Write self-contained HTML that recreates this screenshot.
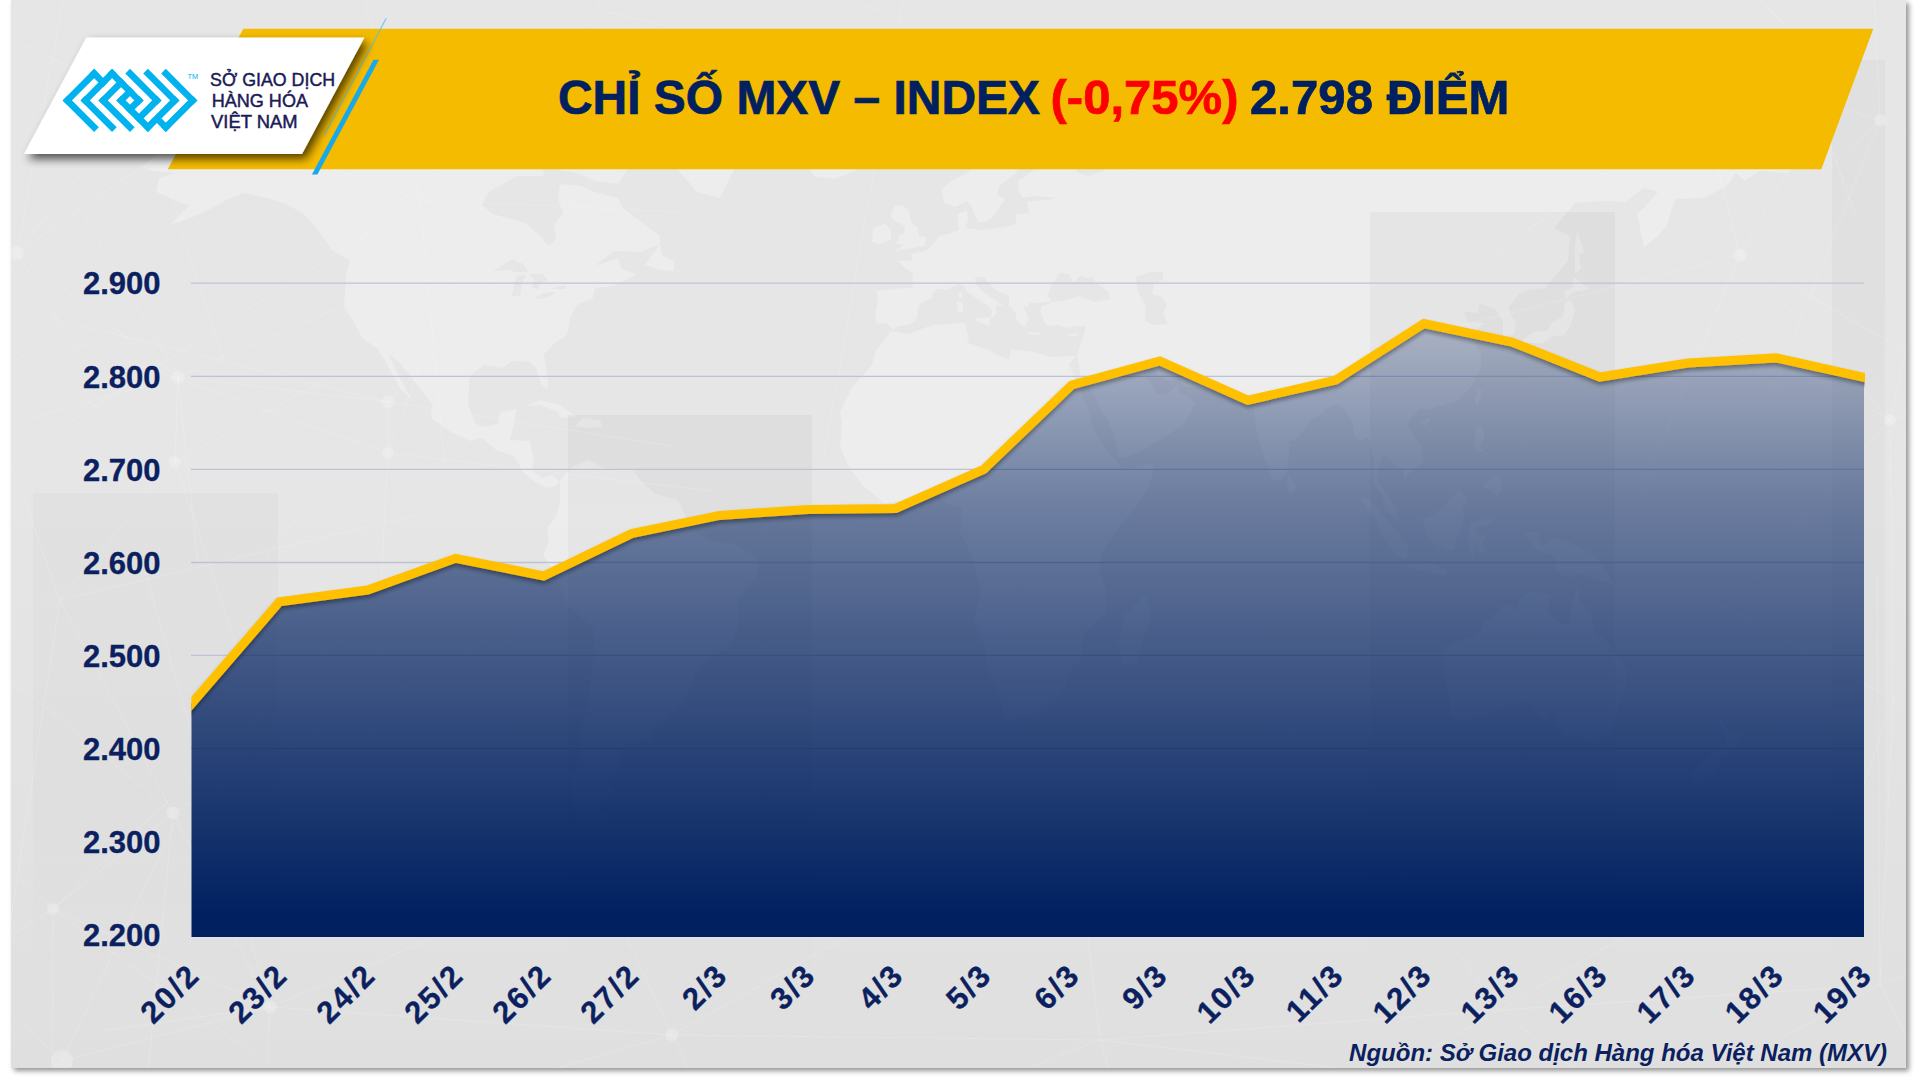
<!DOCTYPE html>
<html lang="vi"><head><meta charset="utf-8"><title>Chỉ số MXV-Index</title>
<style>
html,body{margin:0;padding:0;background:#fff;}
body{width:1920px;height:1080px;overflow:hidden;position:relative;font-family:"Liberation Sans",sans-serif;}
#panel{position:absolute;left:11.3px;top:0;width:1894.7px;height:1068px;background:#e6e6e6;box-shadow:3px 3px 5px rgba(0,0,0,.42);}
svg{position:absolute;left:0;top:0;}
text{font-family:"Liberation Sans",sans-serif;}
</style></head><body>
<div id="panel"></div>
<svg width="1920" height="1080" viewBox="0 0 1920 1080">
<defs>
<linearGradient id="ga" gradientUnits="userSpaceOnUse" x1="0" y1="320" x2="0" y2="915">
<stop offset="0" stop-color="#002060" stop-opacity=".25"/>
<stop offset=".3025" stop-color="#002060" stop-opacity=".53"/>
<stop offset="1" stop-color="#002060" stop-opacity="1"/>
</linearGradient>
<linearGradient id="gb" x1="0" y1="0" x2="0" y2="1"><stop offset="0" stop-color="#000" stop-opacity=".04"/><stop offset=".6" stop-color="#000" stop-opacity=".03"/><stop offset="1" stop-color="#000" stop-opacity="0"/></linearGradient>
<linearGradient id="bgl" x1="0" y1="0" x2="0" y2="1"><stop offset="0" stop-color="#000" stop-opacity="0"/><stop offset=".45" stop-color="#000" stop-opacity="0"/><stop offset="1" stop-color="#000" stop-opacity=".03"/></linearGradient>
<filter id="sh" x="-5%" y="-20%" width="110%" height="150%"><feGaussianBlur in="SourceAlpha" stdDeviation="2"/><feOffset dx="0" dy="3"/><feComponentTransfer><feFuncA type="linear" slope=".38"/></feComponentTransfer><feMerge><feMergeNode/><feMergeNode in="SourceGraphic"/></feMerge></filter>
<filter id="sh2" x="-10%" y="-20%" width="125%" height="150%"><feGaussianBlur in="SourceAlpha" stdDeviation="4.6"/><feOffset dx="4" dy="4.5"/><feComponentTransfer><feFuncA type="linear" slope=".66"/></feComponentTransfer><feMerge><feMergeNode/><feMergeNode in="SourceGraphic"/></feMerge></filter>
<clipPath id="cl"><rect x="191.3" y="200" width="1673.7" height="760"/></clipPath>
<clipPath id="cp"><rect x="11" y="0" width="1895" height="1068"/></clipPath>
</defs>
<g clip-path="url(#cp)">
<rect x="11" y="0" width="1895" height="1068" fill="url(#bgl)"/>
<path d="M142,167 170,142 198,136 267,144 341,142 410,154 480,154 503,148 540,145 544,176 517,176 489,192 482,205 493,214 526,223 540,236 549,246 556,239 554,225 563,214 558,198 560,184 581,186 595,192 618,198 623,208 641,222 660,236 660,244 641,252 614,251 595,266 618,258 621,269 637,274 614,286 595,288 593,298 577,305 570,318 567,335 556,342 544,354 548,379 547,389 541,384 536,368 530,362 512,361 503,368 484,365 470,376 468,404 475,423 482,427 498,424 500,412 517,409 513,428 510,440 530,441 534,462 532,470 542,478 551,475 560,481 556,486 547,488 535,482 523,472 514,456 496,450 482,438 470,441 452,433 431,418 432,404 415,382 399,362 389,354 396,371 410,396 413,401 401,390 387,365 378,349 362,338 353,321 344,306 346,274 350,261 332,250 318,230 304,214 286,204 267,198 244,193 226,200 212,208 193,217 170,225 189,206 170,198 156,192 159,178 175,173 152,171ZM549,123 586,134 609,148 632,162 618,184 595,181 577,173 558,170 581,156 558,142 526,142 507,132ZM373,126 433,126 447,145 401,149 373,137ZM341,119 383,120 383,132 350,134 339,129ZM480,118 549,116 549,108 572,104 632,76 572,71 503,82 480,98ZM581,98 641,76 757,68 826,82 826,115 817,142 780,154 734,170 720,198 697,192 678,170 669,148 651,115 604,110ZM560,481 572,467 588,460 604,468 632,469 641,481 655,494 678,500 688,522 697,533 715,541 734,544 757,558 757,577 738,599 738,626 729,648 711,658 694,670 692,687 678,709 664,720 653,728 653,739 632,742 618,753 623,764 607,780 614,792 600,808 602,819 590,824 574,814 570,786 579,758 581,731 588,704 593,665 594,629 567,604 554,572 543,555 549,541 547,528 556,516 560,503ZM840,447 842,423 840,412 852,387 872,365 875,352 891,331 909,334 932,325 965,323 969,340 966,342 988,350 1009,360 1011,349 1034,352 1052,357 1066,356 1077,356 1069,364 1080,390 1089,412 1092,426 1101,442 1117,462 1122,470 1154,463 1150,484 1136,506 1113,536 1101,555 1099,572 1106,588 1106,613 1085,632 1080,660 1070,670 1066,687 1048,709 1036,714 1011,719 1003,714 999,692 988,670 985,648 974,621 981,594 974,560 960,533 962,508 946,504 937,493 909,500 884,503 863,486 849,467ZM1146,594 1151,616 1136,665 1122,665 1119,643 1124,616ZM877,324 875,315 878,299 876,291 905,288 912,288 913,274 897,261 912,260 911,254 925,251 932,245 939,236 951,233 959,230 957,214 967,210 968,220 965,228 974,229 983,230 1004,227 1016,224 1016,214 1029,213 1027,201 1048,200 1057,198 1034,196 1022,198 1018,189 1018,181 1034,170 1029,166 1020,167 1016,173 999,186 997,195 1005,199 995,214 992,218 985,222 978,222 971,206 967,201 955,207 944,203 942,189 951,181 967,173 983,156 992,148 1011,142 1036,137 1050,138 1062,142 1071,145 1108,155 1106,163 1080,162 1071,162 1078,173 1089,176 1103,171 1106,164 1122,163 1122,154 1131,154 1168,151 1196,148 1233,151 1228,137 1237,126 1256,129 1258,151 1260,132 1288,129 1290,123 1320,115 1371,110 1399,100 1441,112 1441,122 1491,123 1514,137 1533,134 1565,129 1612,134 1658,144 1704,145 1732,144 1750,149 1773,159 1796,166 1787,173 1759,171 1745,181 1736,173 1727,186 1704,198 1676,199 1672,208 1667,225 1658,236 1644,247 1637,214 1644,208 1658,192 1644,188 1625,202 1605,201 1575,203 1554,228 1570,236 1568,261 1545,288 1528,290 1519,294 1508,308 1516,324 1514,334 1503,338 1503,321 1495,309 1480,303 1478,313 1464,312 1468,322 1484,323 1470,335 1481,354 1481,368 1471,387 1457,401 1443,405 1428,410 1420,408 1411,419 1407,426 1421,445 1423,462 1413,470 1404,480 1403,471 1392,462 1384,454 1380,464 1377,477 1383,489 1396,506 1399,519 1396,520 1385,511 1382,494 1373,484 1374,462 1369,437 1360,441 1354,437 1353,423 1344,409 1339,404 1327,408 1320,415 1311,420 1299,437 1289,442 1289,456 1287,471 1279,482 1272,478 1264,457 1257,434 1255,418 1254,409 1244,413 1237,405 1229,393 1216,388 1203,389 1183,386 1180,379 1168,381 1156,374 1150,361 1140,362 1144,374 1150,382 1157,394 1168,394 1178,383 1180,393 1190,398 1195,404 1189,415 1185,423 1174,431 1160,440 1143,450 1126,457 1119,458 1116,446 1115,437 1107,419 1100,409 1096,397 1089,387 1080,374 1079,365 1077,356 1080,346 1084,334 1086,326 1078,326 1067,328 1059,325 1048,326 1044,321 1040,311 1042,306 1052,302 1063,301 1080,296 1094,302 1110,299 1108,291 1096,283 1092,277 1087,278 1080,276 1073,283 1069,274 1059,273 1056,279 1050,288 1048,296 1052,301 1040,303 1029,303 1027,308 1024,305 1025,311 1029,318 1025,327 1021,325 1016,320 1016,313 1009,306 1009,296 997,291 989,284 985,278 982,277 975,278 976,284 982,291 992,298 1004,306 997,305 995,310 997,313 992,318 991,318 992,310 988,306 979,300 967,292 965,286 958,284 953,287 946,290 937,289 932,294 933,298 922,302 917,310 918,315 915,321 908,325 898,326 893,330 889,325 884,323ZM1136,277 1150,272 1163,272 1163,280 1154,283 1152,294 1161,296 1167,305 1163,313 1168,324 1154,325 1145,321 1146,306 1138,292ZM893,252 905,249 925,246 926,237 919,236 918,228 911,222 909,211 903,205 895,206 890,216 896,222 905,226 904,234 898,235 899,240 894,243 904,245ZM891,240 891,230 885,223 873,229 872,242 879,244ZM808,167 817,162 845,162 856,170 835,179 815,177ZM1520,356 1527,354 1528,343 1543,343 1551,337 1564,335 1570,327 1575,310 1571,300 1565,303 1563,316 1551,324 1547,331 1533,332 1524,339 1518,346ZM1565,299 1574,292 1591,289 1585,286 1574,277 1572,288 1565,291ZM1575,274 1581,269 1579,255 1584,252 1579,236 1577,230 1575,247ZM1474,401 1478,389 1482,390 1478,406ZM1474,440 1477,426 1483,427 1484,437 1480,448 1491,457 1484,453 1477,450ZM1482,488 1489,480 1498,474 1503,484 1501,492 1497,496 1491,489ZM1288,474 1296,486 1293,494 1288,493 1287,484ZM1359,497 1369,499 1382,514 1398,533 1408,546 1407,559 1399,558 1385,541 1375,519ZM1422,519 1431,516 1441,509 1452,497 1459,489 1468,499 1463,508 1464,522 1457,536 1454,550 1447,550 1434,545 1427,536ZM1405,565 1420,564 1431,563 1447,570 1447,575 1427,573 1411,568ZM1471,523 1478,520 1495,519 1487,526 1475,528 1480,537 1488,533 1482,545 1486,555 1480,552 1475,543 1474,558 1471,555 1468,541ZM1524,532 1538,532 1542,546 1556,537 1570,542 1588,552 1600,560 1614,584 1598,580 1581,574 1570,577 1556,572 1556,558 1538,550 1532,544ZM1445,648 1443,670 1450,698 1450,716 1464,720 1489,714 1514,702 1526,701 1542,719 1554,709 1556,723 1565,736 1584,739 1595,742 1612,734 1616,714 1625,692 1627,668 1616,657 1607,640 1594,632 1591,610 1581,604 1577,587 1572,599 1570,624 1563,624 1547,613 1551,595 1531,591 1519,599 1517,610 1505,604 1496,613 1483,624 1478,635 1457,642ZM1718,717 1729,731 1743,735 1736,745 1727,756 1722,756 1718,767 1709,780 1695,783 1690,775 1709,758 1716,750 1726,745 1725,734ZM1159,137 1177,123 1196,110 1233,104 1205,118 1177,137ZM969,93 992,88 1029,88 1020,98 992,104ZM526,406 540,400 558,404 576,416 560,418 558,412 540,405ZM574,426 584,418 600,420 602,427 588,428ZM645,265 660,244 662,255 674,261 674,271 660,270ZM976,318 990,317 989,326 976,321ZM956,302 963,302 963,312 958,313ZM959,293 962,292 962,299 959,298ZM1027,332 1040,333 1039,335 1028,334ZM1068,335 1078,332 1076,336 1070,337ZM1421,422 1429,418 1431,420 1424,427ZM493,271 505,264 512,259 523,264 528,272 517,272 507,270ZM512,296 514,286 517,276 526,275 522,284 520,296ZM529,274 542,274 549,281 541,282 538,290 532,287 534,280ZM534,298 544,293 554,292 554,294 542,299ZM550,289 560,286 566,286 565,289 556,289Z" fill="#fff" fill-opacity=".28" fill-rule="evenodd"/>
<rect x="33" y="493" width="245" height="497" fill="url(#gb)" opacity="0.55"/><rect x="568" y="415" width="244" height="575" fill="url(#gb)" opacity="0.85"/><rect x="1370" y="212" width="245" height="778" fill="url(#gb)" opacity="0.85"/><rect x="1832" y="60" width="53" height="930" fill="url(#gb)" opacity="0.7"/>
<path d="M178,377L338,308M178,377L198,564M178,377L-239,494M178,377L84,217M388,402L672,446M388,402L266,557M388,402L50,318M388,402L615,158M388,453L713,491M388,453L373,738M388,453L76,343M388,453L513,111M175,462L-48,307M175,462L332,376M175,462L245,672M17,253L-260,139M17,253L65,-11M17,253L193,131M17,253L114,410M17,253L-94,541M270,1007L145,571M270,1007L533,896M270,1007L260,1212M270,1007L100,1031M1740,255L2083,455M1740,255L1639,497M1740,255L1440,331M1740,255L1695,80M1740,255L1859,45M53,909L-225,664M53,909L387,596M53,909L252,1053M53,909L51,1270M53,909L-199,1069M173,813L-1,669M173,813L507,629M173,813L131,1246M62,1061L352,1208M62,1061L-222,1351M62,1061L-115,893M62,1061L177,819M672,1035L857,931M672,1035L774,1241M672,1035L348,1128M672,1035L604,889M1880,120L1635,46M1880,120L1860,-297M1880,120L2188,300M1880,120L1770,396M1890,420L1952,147M1890,420L2225,318M1890,420L1997,565M1890,420L1752,577M1890,420L1736,336M140,100L-262,-91M140,100L294,5M140,100L224,360M420,200L445,468M420,200L70,422M420,200L340,-89M420,200L529,50M420,200L683,212M60,600L-255,600M60,600L-90,180M60,600L417,515M60,600L1,983M1100,1040L1466,1083M1100,1040L1181,1297M1100,1040L735,1183M1100,1040L1054,649M1500,1010L1264,691M1500,1010L1688,898M1500,1010L1719,1184M1500,1010L1308,1117M1893,700L1838,859M1893,700L1685,585M1893,700L2212,387M1893,700L2251,957M1880,985L2090,901M1880,985L1981,1179M1880,985L1574,1150M1880,985L1877,573M1790,30L2064,-193M1790,30L1855,215M1790,30L1493,257M1790,30L1488,-271M900,20L950,-377M900,20L1134,171M900,20L824,457M900,20L706,-62M600,10L891,80M600,10L352,248M600,10L515,-280M178,377L388,402M178,377L175,462M388,402L388,453M178,377L17,253M270,1007L53,909M270,1007L173,813M270,1007L62,1061M270,1007L672,1035M53,909L173,813M1740,255L1880,120M1740,255L1890,420M672,1035L1100,1040M1100,1040L1500,1010M1500,1010L1880,985M1890,420L1893,700M1893,700L1880,985M140,100L420,200M17,253L140,100M175,462L60,600M60,600L173,813" stroke="#fff" stroke-opacity=".17" stroke-width="1" fill="none"/>
<g fill="#fff" fill-opacity=".22"><circle cx="178" cy="377" r="6.5"/><circle cx="388" cy="402" r="6.5"/><circle cx="388" cy="453" r="6"/><circle cx="175" cy="462" r="6"/><circle cx="17" cy="253" r="7"/><circle cx="270" cy="1007" r="6.5"/><circle cx="1740" cy="255" r="6.5"/><circle cx="53" cy="909" r="6"/><circle cx="173" cy="813" r="6.5"/><circle cx="62" cy="1061" r="11"/><circle cx="672" cy="1035" r="6.5"/><circle cx="1880" cy="120" r="6"/><circle cx="1890" cy="420" r="6"/></g>

</g>
<polygon points="243.3,28.8 1873.3,28.8 1821.3,169.2 167.8,169.2" fill="#f4bb00"/>
<line x1="386.2" y1="18.3" x2="324.2" y2="135.2" stroke="#55bdf0" stroke-opacity=".72" stroke-width="1.3"/>
<polygon points="373.5,59.7 379,59.7 317.4,174.5 311.9,174.5" fill="#17a9ea"/>
<polygon points="86.3,37.4 364.4,37.4 302,154 24,154" fill="#fff" filter="url(#sh2)"/>
<g fill="#00b2ee" transform="matrix(4.4790,4.4790,4.4790,-4.4790,62.8,100.4)"><rect x="-0.02" y="-0.02" width="1.04" height="7.04"/><rect x="-0.02" y="-0.02" width="7.04" height="1.04"/><rect x="-0.02" y="5.98" width="3.04" height="1.04"/><rect x="1.98" y="1.98" width="1.04" height="7.04"/><rect x="1.98" y="1.98" width="7.04" height="1.04"/><rect x="1.98" y="7.98" width="7.04" height="1.04"/><rect x="3.98" y="3.98" width="1.04" height="5.04"/><rect x="3.98" y="3.98" width="7.04" height="1.04"/><rect x="5.98" y="5.98" width="1.04" height="3.04"/><rect x="5.98" y="5.98" width="7.04" height="1.04"/><rect x="7.98" y="5.98" width="1.04" height="3.04"/><rect x="3.98" y="9.98" width="7.04" height="1.04"/><rect x="9.98" y="5.98" width="1.04" height="5.04"/><rect x="5.98" y="11.98" width="7.04" height="1.04"/><rect x="11.98" y="5.98" width="1.04" height="7.04"/><rect x="7.98" y="13.98" width="7.04" height="1.04"/><rect x="13.98" y="7.98" width="1.04" height="7.04"/><rect x="12.98" y="7.98" width="2.04" height="1.04"/></g>
<text x="187.6" y="78.6" font-size="6.6" fill="#00b2ee" textLength="10.6" lengthAdjust="spacingAndGlyphs">TM</text>
<text x="210.1" y="86.0" font-size="17.9" fill="#1a1a56" stroke="#1a1a56" stroke-width=".45" textLength="125.0" lengthAdjust="spacingAndGlyphs">SỞ GIAO DỊCH</text>
<text x="211.7" y="107.1" font-size="17.9" fill="#1a1a56" stroke="#1a1a56" stroke-width=".45" textLength="96.3" lengthAdjust="spacingAndGlyphs">HÀNG HÓA</text>
<text x="211.1" y="128.4" font-size="17.9" fill="#1a1a56" stroke="#1a1a56" stroke-width=".45" textLength="86.5" lengthAdjust="spacingAndGlyphs">VIỆT NAM</text>
<g font-size="47.5" font-weight="bold" fill="#002060" stroke="#002060" stroke-width=".7"><text x="558" y="114.2" textLength="482" lengthAdjust="spacingAndGlyphs">CHỈ SỐ MXV – INDEX</text><text x="1050.5" y="114.2" fill="#ff0000" stroke="#ff0000" textLength="188" lengthAdjust="spacingAndGlyphs">(-0,75%)</text><text x="1250" y="114.2" textLength="259.5" lengthAdjust="spacingAndGlyphs">2.798 ĐIỂM</text></g>
<line x1="191" y1="283.2" x2="1864.3" y2="283.2" stroke="#bcc3d3" stroke-width="1.3"/><line x1="191" y1="376.3" x2="1864.3" y2="376.3" stroke="#bcc3d3" stroke-width="1.3"/><line x1="191" y1="469.3" x2="1864.3" y2="469.3" stroke="#bcc3d3" stroke-width="1.3"/><line x1="191" y1="562.5" x2="1864.3" y2="562.5" stroke="#bcc3d3" stroke-width="1.3"/><line x1="191" y1="655.4" x2="1864.3" y2="655.4" stroke="#bcc3d3" stroke-width="1.3"/><line x1="191" y1="748.5" x2="1864.3" y2="748.5" stroke="#bcc3d3" stroke-width="1.3"/><line x1="191" y1="841.6" x2="1864.3" y2="841.6" stroke="#bcc3d3" stroke-width="1.3"/>
<path d="M191.5,703.8 L279.5,601.8 L367.6,590.0 L455.6,558.3 L543.6,576.0 L631.6,533.6 L719.7,515.4 L807.7,509.6 L895.7,508.4 L983.7,469.4 L1071.8,385.0 L1159.8,361.0 L1247.8,400.2 L1335.8,380.1 L1423.9,323.5 L1511.9,342.0 L1599.9,377.0 L1687.9,363.1 L1776.0,357.9 L1864.0,377.3 L1864.0,937.0 L191.5,937.0 Z" fill="url(#ga)"/>
<g clip-path="url(#cl)"><path d="M183.7,712.9 L191.5,703.8 L279.5,601.8 L367.6,590.0 L455.6,558.3 L543.6,576.0 L631.6,533.6 L719.7,515.4 L807.7,509.6 L895.7,508.4 L983.7,469.4 L1071.8,385.0 L1159.8,361.0 L1247.8,400.2 L1335.8,380.1 L1423.9,323.5 L1511.9,342.0 L1599.9,377.0 L1687.9,363.1 L1776.0,357.9 L1864.0,377.3 L1875.7,379.9" fill="none" stroke="#ffc000" stroke-width="9" stroke-linejoin="miter" stroke-linecap="butt" filter="url(#sh)"/></g>
<g font-size="31" font-weight="bold" fill="#0c1f5f" stroke="#0c1f5f" stroke-width=".35" text-anchor="end"><text x="160.5" y="294.4">2.900</text><text x="160.5" y="387.5">2.800</text><text x="160.5" y="480.5">2.700</text><text x="160.5" y="573.7">2.600</text><text x="160.5" y="666.6">2.500</text><text x="160.5" y="759.7">2.400</text><text x="160.5" y="852.8">2.300</text><text x="160.5" y="945.9">2.200</text></g>
<g font-size="31" font-weight="bold" fill="#0c1f5f" stroke="#0c1f5f" stroke-width=".3" text-anchor="end" letter-spacing="2"><text transform="translate(201.5,977.0) rotate(-45)">20/2</text><text transform="translate(289.5,977.0) rotate(-45)">23/2</text><text transform="translate(377.6,977.0) rotate(-45)">24/2</text><text transform="translate(465.6,977.0) rotate(-45)">25/2</text><text transform="translate(553.6,977.0) rotate(-45)">26/2</text><text transform="translate(641.6,977.0) rotate(-45)">27/2</text><text transform="translate(729.7,977.0) rotate(-45)">2/3</text><text transform="translate(817.7,977.0) rotate(-45)">3/3</text><text transform="translate(905.7,977.0) rotate(-45)">4/3</text><text transform="translate(993.7,977.0) rotate(-45)">5/3</text><text transform="translate(1081.8,977.0) rotate(-45)">6/3</text><text transform="translate(1169.8,977.0) rotate(-45)">9/3</text><text transform="translate(1257.8,977.0) rotate(-45)">10/3</text><text transform="translate(1345.8,977.0) rotate(-45)">11/3</text><text transform="translate(1433.9,977.0) rotate(-45)">12/3</text><text transform="translate(1521.9,977.0) rotate(-45)">13/3</text><text transform="translate(1609.9,977.0) rotate(-45)">16/3</text><text transform="translate(1697.9,977.0) rotate(-45)">17/3</text><text transform="translate(1786.0,977.0) rotate(-45)">18/3</text><text transform="translate(1874.0,977.0) rotate(-45)">19/3</text></g>
<text x="1887" y="1060.6" font-size="24" font-weight="bold" font-style="italic" fill="#0c1f5f" text-anchor="end">Nguồn: Sở Giao dịch Hàng hóa Việt Nam (MXV)</text>
</svg>
</body></html>
